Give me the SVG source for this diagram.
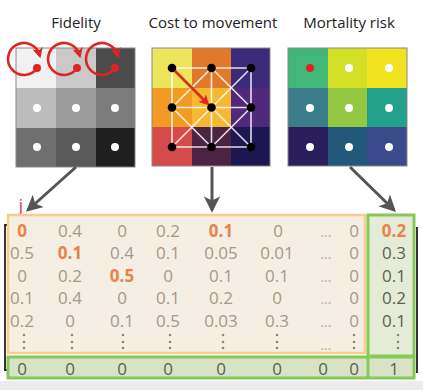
<svg xmlns="http://www.w3.org/2000/svg" width="423" height="390" viewBox="0 0 423 390">
<style>
.title{font-family:"Open Sans","Liberation Sans",sans-serif;font-size:15px;fill:#222;text-anchor:middle}
.n{font-family:"Open Sans","Liberation Sans",sans-serif;font-size:17px;fill:#a39a88;text-anchor:middle}
.o{font-family:"Open Sans","Liberation Sans",sans-serif;font-size:17px;fill:#e8834c;font-weight:bold;text-anchor:middle}
.d{font-family:"Open Sans","Liberation Sans",sans-serif;font-size:17px;fill:#5d5f4e;text-anchor:middle}
.el{font-family:"Open Sans","Liberation Sans",sans-serif;font-size:14px;fill:#b5ad9c;text-anchor:middle}
.wd{fill:#fff}
.bd{fill:#000}
.rd{fill:#e02424}
.loop{fill:none;stroke:#e02424;stroke-width:2.6}
.net{stroke:#fff;stroke-width:1.6;stroke-opacity:0.85}
.conn{stroke:#555;stroke-width:3;fill:none}
.vd{fill:#8f8878}
.gridframe{fill:none;stroke:#888;stroke-width:1}
</style>
<defs>
<marker id="ga" viewBox="0 0 12 12" refX="10" refY="6" markerWidth="5.5" markerHeight="5.5" orient="auto" markerUnits="strokeWidth">
<path d="M0,0 L12,6 L0,12 L3,6 z" fill="#555"/>
</marker>
<marker id="ra" viewBox="0 0 12 12" refX="8" refY="6" markerWidth="4" markerHeight="4" orient="auto" markerUnits="strokeWidth">
<path d="M0,0 L12,6 L0,12 L3,6 z" fill="#e02424"/>
</marker>
</defs>
<rect x="0" y="0" width="423" height="390" fill="#fff"/>
<rect x="0" y="381" width="423" height="9" fill="#ececec"/>

<g id="fidelity">
<text class="title" x="76" y="28">Fidelity</text>
<rect x="16" y="48" width="40" height="40" fill="#f1f1f1"/>
<rect x="56" y="48" width="40" height="40" fill="#c9c9c9"/>
<rect x="96" y="48" width="39" height="40" fill="#4b4b4b"/>
<rect x="16" y="88" width="40" height="40" fill="#bcbcbc"/>
<rect x="56" y="88" width="40" height="40" fill="#9b9b9b"/>
<rect x="96" y="88" width="39" height="40" fill="#7b7b7b"/>
<rect x="16" y="128" width="40" height="39" fill="#6f6f6f"/>
<rect x="56" y="128" width="40" height="39" fill="#5a5a5a"/>
<rect x="96" y="128" width="39" height="39" fill="#1f1f1f"/>
<rect class="gridframe" x="16" y="48" width="119" height="119"/>
<circle class="wd" cx="37" cy="108" r="4"/>
<circle class="wd" cx="76" cy="108" r="4"/>
<circle class="wd" cx="115" cy="108" r="4"/>
<circle class="wd" cx="37" cy="147" r="4"/>
<circle class="wd" cx="76" cy="147" r="4"/>
<circle class="wd" cx="115" cy="147" r="4"/>
<circle class="rd" cx="37" cy="68" r="4"/>
<circle class="rd" cx="77" cy="68" r="4"/>
<circle class="rd" cx="115" cy="68" r="4"/>
<path class="loop" marker-end="url(#ra)" d="M37.2,68.1 A16,16 0 1 1 39.5,54.9"/>
<path class="loop" marker-end="url(#ra)" d="M77.2,68.1 A16,16 0 1 1 79.5,54.9"/>
<path class="loop" marker-end="url(#ra)" d="M115.2,68.1 A16,16 0 1 1 117.5,54.9"/>
</g>

<g id="cost">
<text class="title" x="213" y="28">Cost to movement</text>
<rect x="152" y="48" width="40" height="40" fill="#ece55c"/>
<rect x="192" y="48" width="39" height="40" fill="#e07a2a"/>
<rect x="231" y="48" width="39" height="40" fill="#3b2a7a"/>
<rect x="152" y="88" width="40" height="39" fill="#f29b22"/>
<rect x="192" y="88" width="39" height="39" fill="#f6b832"/>
<rect x="231" y="88" width="39" height="39" fill="#50297a"/>
<rect x="152" y="127" width="40" height="39" fill="#d54b4b"/>
<rect x="192" y="127" width="39" height="39" fill="#4b2444"/>
<rect x="231" y="127" width="39" height="39" fill="#1d1751"/>
<rect class="gridframe" x="152" y="48" width="118" height="118"/>
<g class="net">
<line x1="172" y1="68" x2="251" y2="68"/>
<line x1="172" y1="107.5" x2="251" y2="107.5"/>
<line x1="172" y1="147" x2="251" y2="147"/>
<line x1="172" y1="68" x2="172" y2="147"/>
<line x1="211.5" y1="68" x2="211.5" y2="147"/>
<line x1="251" y1="68" x2="251" y2="147"/>
<line x1="211.5" y1="68" x2="172" y2="107.5"/>
<line x1="211.5" y1="68" x2="251" y2="107.5"/>
<line x1="251" y1="68" x2="211.5" y2="107.5"/>
<line x1="172" y1="107.5" x2="211.5" y2="147"/>
<line x1="211.5" y1="107.5" x2="172" y2="147"/>
<line x1="211.5" y1="107.5" x2="251" y2="147"/>
<line x1="251" y1="107.5" x2="211.5" y2="147"/>
</g>
<line x1="172" y1="68" x2="207" y2="103" stroke="#d83020" stroke-width="2.6" marker-end="url(#ra)"/>
<circle class="bd" cx="172" cy="68" r="4.3"/>
<circle class="bd" cx="211.5" cy="68" r="4.3"/>
<circle class="bd" cx="251" cy="68" r="4.3"/>
<circle class="bd" cx="172" cy="107.5" r="4.3"/>
<circle class="bd" cx="211.5" cy="107.5" r="4.3"/>
<circle class="bd" cx="251" cy="107.5" r="4.3"/>
<circle class="bd" cx="172" cy="147" r="4.3"/>
<circle class="bd" cx="211.5" cy="147" r="4.3"/>
<circle class="bd" cx="251" cy="147" r="4.3"/>
</g>

<g id="mortality">
<text class="title" x="349" y="28">Mortality risk</text>
<rect x="288" y="48" width="40" height="40" fill="#41b877"/>
<rect x="328" y="48" width="39" height="40" fill="#d3e026"/>
<rect x="367" y="48" width="40" height="40" fill="#f1e31f"/>
<rect x="288" y="88" width="40" height="39" fill="#3b7d8b"/>
<rect x="328" y="88" width="39" height="39" fill="#95c842"/>
<rect x="367" y="88" width="40" height="39" fill="#21a08a"/>
<rect x="288" y="127" width="40" height="39" fill="#2a1f5b"/>
<rect x="328" y="127" width="39" height="39" fill="#22597b"/>
<rect x="367" y="127" width="40" height="39" fill="#3b4a8b"/>
<rect class="gridframe" x="288" y="48" width="119" height="118"/>
<circle class="rd" cx="310" cy="68" r="4"/>
<circle class="wd" cx="349" cy="68" r="4"/>
<circle class="wd" cx="389" cy="68" r="4"/>
<circle class="wd" cx="310" cy="108" r="4"/>
<circle class="wd" cx="349" cy="108" r="4"/>
<circle class="wd" cx="389" cy="108" r="4"/>
<circle class="wd" cx="310" cy="147" r="4"/>
<circle class="wd" cx="349" cy="147" r="4"/>
<circle class="wd" cx="389" cy="147" r="4"/>
</g>

<g id="connectors">
<line class="conn" x1="76" y1="167" x2="28" y2="210" marker-end="url(#ga)"/>
<line class="conn" x1="212" y1="167" x2="212" y2="210" marker-end="url(#ga)"/>
<line class="conn" x1="350" y1="167" x2="394" y2="210" marker-end="url(#ga)"/>
</g>

<g id="matrix">
<text x="21" y="211" font-family="'Open Sans','Liberation Sans',sans-serif" font-size="17" fill="#e0304a" text-anchor="middle">j</text>
<path d="M9,225 L5,225 L5,370 L9,370" fill="none" stroke="#222" stroke-width="1.8"/>
<line x1="417" y1="227" x2="417" y2="373" stroke="#333" stroke-width="2"/>
<rect x="8" y="215" width="357" height="138" fill="#f5eee2" stroke="#f6cd8a" stroke-width="2.5"/>
<rect x="368" y="215" width="46" height="141" fill="#e4ebd6" stroke="#86c95a" stroke-width="3"/>
<rect x="8" y="357" width="406" height="21" fill="#d8e3c6" stroke="#86c95a" stroke-width="3"/>
<line x1="368" y1="357" x2="368" y2="378" stroke="#86c95a" stroke-width="3"/>

<text class="o" x="22" y="237">0</text><text class="n" x="70" y="237">0.4</text><text class="n" x="122" y="237">0</text><text class="n" x="168" y="237">0.2</text><text class="o" x="221" y="237">0.1</text><text class="n" x="278" y="237">0</text><text class="el" x="326" y="237">…</text><text class="n" x="354" y="237">0</text><text class="o" x="394" y="237">0.2</text>

<text class="n" x="22" y="259">0.5</text><text class="o" x="70" y="259">0.1</text><text class="n" x="122" y="259">0.4</text><text class="n" x="168" y="259">0.1</text><text class="n" x="221" y="259">0.05</text><text class="n" x="277" y="259">0.01</text><text class="el" x="326" y="259">…</text><text class="n" x="354" y="259">0</text><text class="d" x="394" y="259">0.3</text>

<text class="n" x="22" y="282">0</text><text class="n" x="70" y="282">0.2</text><text class="o" x="122" y="282">0.5</text><text class="n" x="168" y="282">0</text><text class="n" x="221" y="282">0.1</text><text class="n" x="277" y="282">0.1</text><text class="el" x="326" y="282">…</text><text class="n" x="354" y="282">0</text><text class="d" x="394" y="282">0.1</text>

<text class="n" x="22" y="304">0.1</text><text class="n" x="70" y="304">0.4</text><text class="n" x="122" y="304">0</text><text class="n" x="168" y="304">0.1</text><text class="n" x="221" y="304">0.2</text><text class="n" x="277" y="304">0</text><text class="el" x="326" y="304">…</text><text class="n" x="354" y="304">0</text><text class="d" x="394" y="304">0.2</text>

<text class="n" x="22" y="327">0.2</text><text class="n" x="70" y="327">0</text><text class="n" x="122" y="327">0.1</text><text class="n" x="168" y="327">0.5</text><text class="n" x="221" y="327">0.03</text><text class="n" x="277" y="327">0.3</text><text class="el" x="326" y="327">…</text><text class="n" x="354" y="327">0</text><text class="d" x="394" y="327">0.1</text>

<g class="vd">
<circle cx="24" cy="335" r="1.3"/><circle cx="24" cy="342" r="1.3"/><circle cx="24" cy="348" r="1.3"/>
<circle cx="72" cy="335" r="1.3"/><circle cx="72" cy="342" r="1.3"/><circle cx="72" cy="348" r="1.3"/>
<circle cx="123" cy="335" r="1.3"/><circle cx="123" cy="342" r="1.3"/><circle cx="123" cy="348" r="1.3"/>
<circle cx="170" cy="335" r="1.3"/><circle cx="170" cy="342" r="1.3"/><circle cx="170" cy="348" r="1.3"/>
<circle cx="223" cy="335" r="1.3"/><circle cx="223" cy="342" r="1.3"/><circle cx="223" cy="348" r="1.3"/>
<circle cx="277" cy="335" r="1.3"/><circle cx="277" cy="342" r="1.3"/><circle cx="277" cy="348" r="1.3"/>
<circle cx="354" cy="335" r="1.3"/><circle cx="354" cy="342" r="1.3"/><circle cx="354" cy="348" r="1.3"/>
<circle cx="398" cy="335" r="1.3"/><circle cx="398" cy="342" r="1.3"/><circle cx="398" cy="348" r="1.3"/>
</g>
<text class="el" x="326" y="350">…</text>

<text class="d" x="22" y="375">0</text><text class="d" x="70" y="375">0</text><text class="d" x="122" y="375">0</text><text class="d" x="168" y="375">0</text><text class="d" x="221" y="375">0</text><text class="d" x="277" y="375">0</text><text class="d" x="323" y="375">0</text><text class="d" x="354" y="375">0</text><text class="d" x="394" y="375">1</text>
</g>
</svg>
